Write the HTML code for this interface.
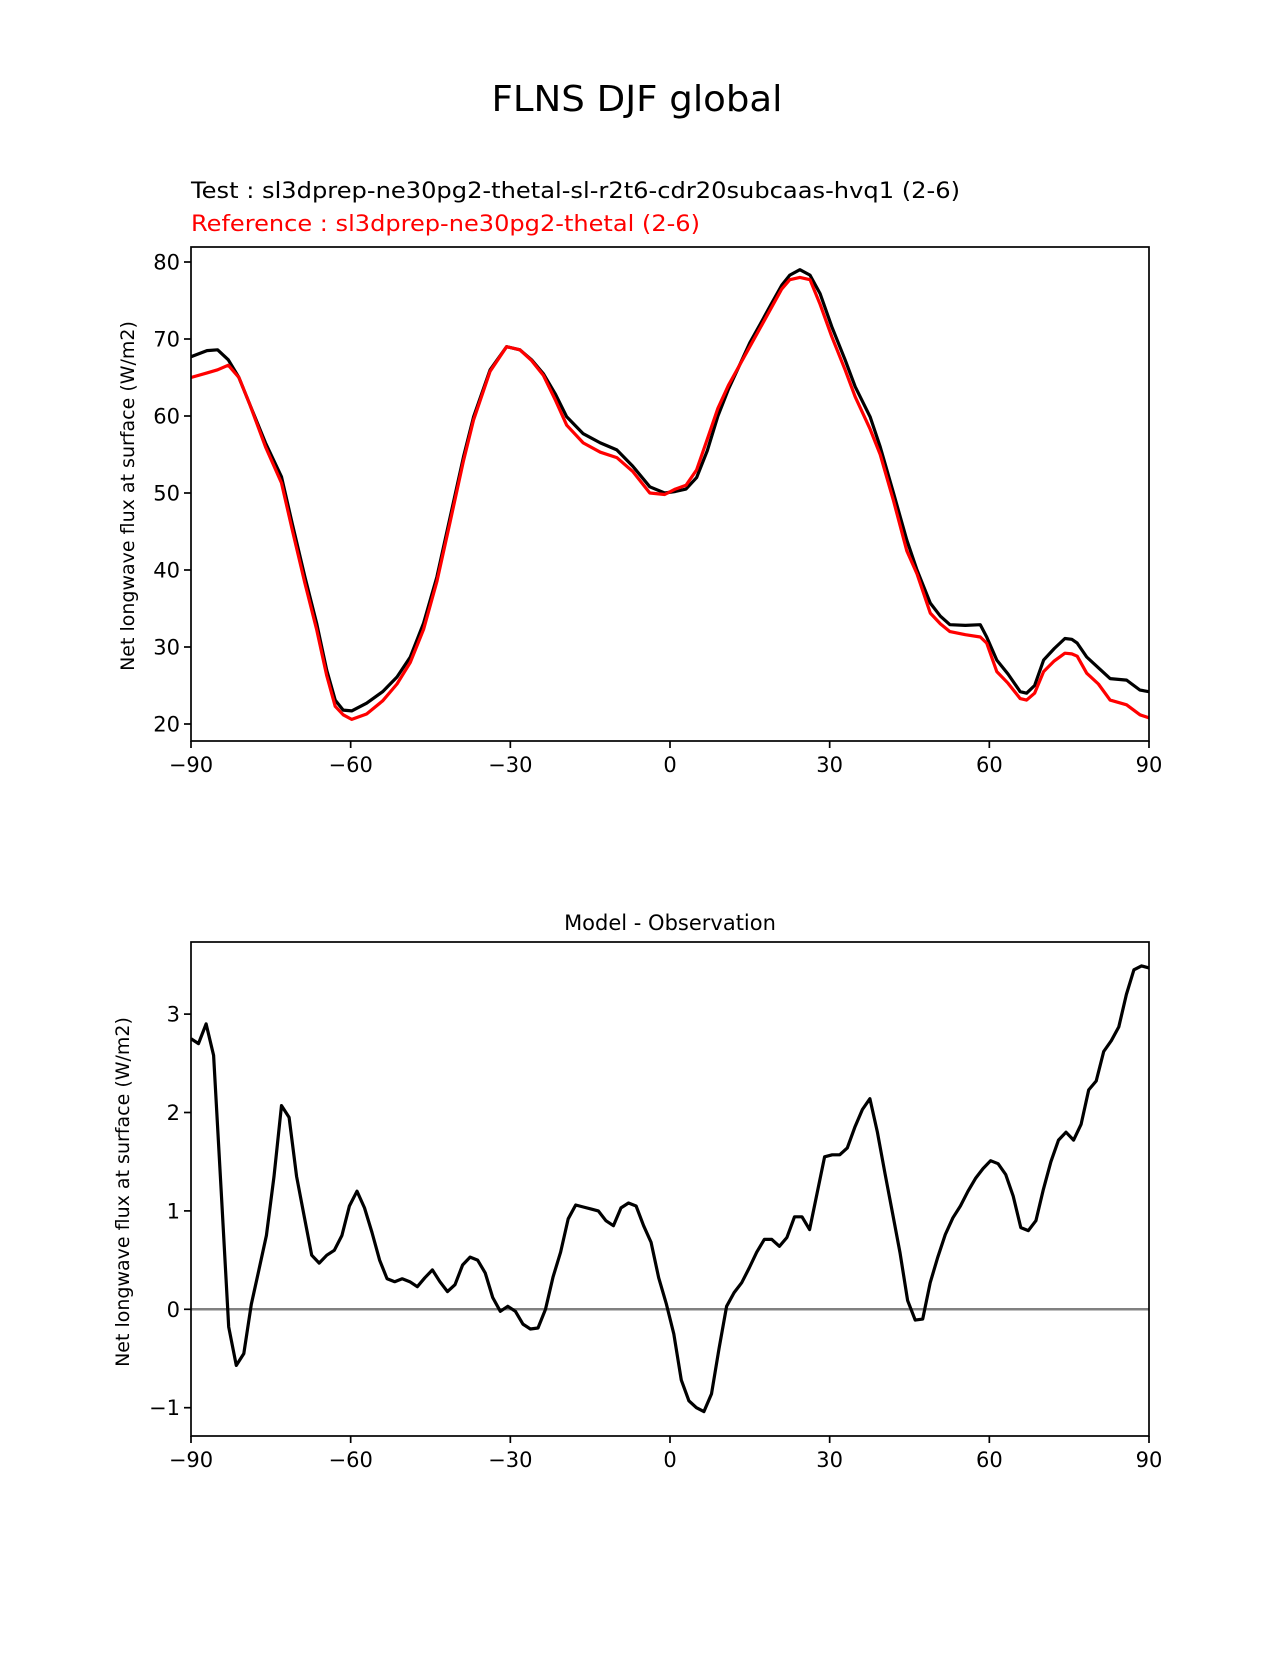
<!DOCTYPE html>
<html><head><meta charset="utf-8"><style>
html,body{margin:0;padding:0;background:#fff}
svg text{font-family:"DejaVu Sans","Liberation Sans",sans-serif}
</style></head><body>
<svg id="fig" width="1275" height="1650" viewBox="0 0 1275 1650" xmlns="http://www.w3.org/2000/svg">
<rect width="1275" height="1650" fill="#fff"/>
<text x="637" y="111" font-size="36" text-anchor="middle" textLength="291" lengthAdjust="spacingAndGlyphs">FLNS DJF global</text>
<text x="191" y="198" font-size="22" textLength="769" lengthAdjust="spacingAndGlyphs">Test : sl3dprep-ne30pg2-thetal-sl-r2t6-cdr20subcaas-hvq1 (2-6)</text>
<text x="191" y="231" font-size="22" fill="#ff0000" textLength="509" lengthAdjust="spacingAndGlyphs">Reference : sl3dprep-ne30pg2-thetal (2-6)</text>
<text x="670" y="930" font-size="21" text-anchor="middle">Model - Observation</text>
<g id="top"></g>
<g id="bot"></g>
</svg>
<script>
const xTicks=[-90,-60,-30,0,30,60,90];
const topYTicks=[20,30,40,50,60,70,80];
const botYTicks=[-1,0,1,2,3];
const topLats=[-90,-87,-85,-83,-81,-79,-76,-73,-71,-68.6,-66.4,-64.5,-62.9,-61.4,-59.8,-57,-54,-51.3,-48.8,-46.3,-43.8,-41.3,-38.8,-36.9,-33.8,-30.7,-28.2,-26,-23.8,-21.5,-19.4,-16.3,-13.1,-10,-7,-3.8,-1,1,3,5,7,9,11,13,15,17,19,21,22.5,24.4,26.3,28.2,30.4,32.9,34.8,37.6,39.5,42,44.5,46.4,48.9,50.8,52.6,55.5,58.3,59.5,61.4,63.5,65.8,67,68.5,70.2,72.2,74.2,75.5,76.5,78.3,80.5,82.7,85.8,88.3,90];
const testVals=[67.7,68.5,68.6,67.3,65,61.6,56.5,52.1,46.1,39.1,33.1,27,23.1,21.8,21.7,22.7,24.2,26.1,28.7,33.1,39.1,46.9,54.7,59.9,66,69,68.6,67.3,65.5,62.8,59.9,57.7,56.5,55.6,53.5,50.8,50,50.2,50.5,52,55.5,60,63.5,66.5,69.5,72,74.5,77,78.3,79,78.3,75.9,71.6,67.3,63.8,59.9,56,50,43.9,40,35.7,34,32.9,32.8,32.9,31.3,28.3,26.5,24.2,24,25,28.3,29.8,31.1,31,30.5,28.7,27.3,25.9,25.7,24.4,24.2];
const refVals=[65,65.6,66,66.6,65,61.6,56,51.3,45.3,38.3,32.3,26.3,22.3,21.2,20.6,21.3,23,25.2,28,32.3,38.5,46.3,54.2,59.5,65.8,69,68.6,67.2,65.3,62,58.8,56.5,55.3,54.6,52.8,50,49.8,50.5,51,53,57,61,64,66.5,69,71.5,74,76.5,77.7,78,77.7,74.5,70.3,66,62.5,58.3,55,49,42.5,39.5,34.4,33,32,31.6,31.3,30.5,26.8,25.3,23.3,23.1,24,26.8,28.2,29.2,29.1,28.8,26.6,25.2,23.1,22.5,21.2,20.8];
const diffVals=[2.75,2.7,2.9,2.58,1.2,-0.18,-0.57,-0.45,0.05,0.4,0.75,1.35,2.07,1.95,1.35,0.95,0.55,0.47,0.55,0.6,0.75,1.05,1.2,1.03,0.78,0.5,0.31,0.28,0.31,0.28,0.23,0.32,0.4,0.28,0.18,0.25,0.45,0.53,0.5,0.37,0.12,-0.02,0.03,-0.02,-0.15,-0.2,-0.19,0,0.33,0.58,0.92,1.06,1.04,1.02,1.0,0.9,0.85,1.03,1.08,1.05,0.85,0.68,0.32,0.06,-0.25,-0.72,-0.93,-1.0,-1.04,-0.86,-0.4,0.03,0.17,0.27,0.42,0.58,0.71,0.71,0.64,0.73,0.94,0.94,0.81,1.18,1.55,1.57,1.57,1.64,1.85,2.03,2.14,1.8,1.38,0.98,0.57,0.09,-0.11,-0.1,0.27,0.53,0.76,0.93,1.05,1.2,1.33,1.43,1.51,1.48,1.37,1.15,0.83,0.8,0.9,1.22,1.5,1.72,1.8,1.72,1.88,2.23,2.32,2.62,2.73,2.87,3.2,3.45,3.49,3.47];
const NS='http://www.w3.org/2000/svg';
const L=191,R=1149;
function xs(v){return L+(v+90)/180*(R-L);}
function mk(p,tag,at){const e=document.createElementNS(NS,tag);for(const k in at)e.setAttribute(k,at[k]);p.appendChild(e);return e;}
function axes(g,top,bot,ys,yTicks,ylabY,prefix){
  xTicks.forEach(t=>{
    const x=xs(t);
    const tk=mk(g,'line',{x1:x,x2:x,y1:bot,y2:bot+7,stroke:'#000','stroke-width':1.7});
    
    
    const tx=mk(g,'text',{x:x,y:bot+31,'font-size':21,'text-anchor':'middle'});
    tx.textContent=(t<0?'\u2212'+(-t):''+t);
    
    
  });
  yTicks.forEach(t=>{
    const y=ys(t);
    const tk=mk(g,'line',{x1:L-7,x2:L,y1:y,y2:y,stroke:'#000','stroke-width':1.7});
    
    
    const tx=mk(g,'text',{x:L-11,y:y+7.5,'font-size':21,'text-anchor':'end'});
    tx.textContent=(t<0?'\u2212'+(-t):''+t);
    
    
  });
  const yl=mk(g,'text',{x:0,y:0,'font-size':19,'text-anchor':'middle',transform:'translate('+(prefix==='top-'?134:129)+','+ylabY+') rotate(-90)'});
  yl.textContent='Net longwave flux at surface (W/m2)';
  
  
  const fr=mk(g,'rect',{x:L,y:top,width:R-L,height:bot-top,fill:'none',stroke:'#000','stroke-width':1.7});
  
  
}
function line(g,lats,vals,ys,color,name){
  const d=vals.map((v,i)=>(i?'L':'M')+xs(lats[i]).toFixed(1)+','+ys(v).toFixed(1)).join('');
  const p=mk(g,'path',{d:d,fill:'none',stroke:color,'stroke-width':3.2,'stroke-linejoin':'round'});
  
  
}
const gT=document.getElementById('top');
const tTop=247,tBot=741;
const ysT=v=>724-(v-20)*7.7;
const clipT=mk(gT,'clipPath',{id:'cT'});mk(clipT,'rect',{x:L,y:tTop,width:R-L,height:tBot-tTop});
const sT=mk(gT,'g',{'clip-path':'url(#cT)'});
line(sT,topLats,testVals,ysT,'#000','test-line');
line(sT,topLats,refVals,ysT,'#ff0000','reference-line');
axes(gT,tTop,tBot,ysT,topYTicks,496,'top-');
const gB=document.getElementById('bot');
const bTop=942,bBot=1436;
const ysB=v=>1309.3-v*98.4;
const diffLats=diffVals.map((v,i)=>-90+i*180/(diffVals.length-1));
const clipB=mk(gB,'clipPath',{id:'cB'});mk(clipB,'rect',{x:L,y:bTop,width:R-L,height:bBot-bTop});
const sB=mk(gB,'g',{'clip-path':'url(#cB)'});
const zl=mk(sB,'line',{x1:L,x2:R,y1:ysB(0),y2:ysB(0),stroke:'#808080','stroke-width':2.5});


line(sB,diffLats,diffVals,ysB,'#000','difference-line');
axes(gB,bTop,bBot,ysB,botYTicks,1192,'bot-');
</script>
</body></html>
